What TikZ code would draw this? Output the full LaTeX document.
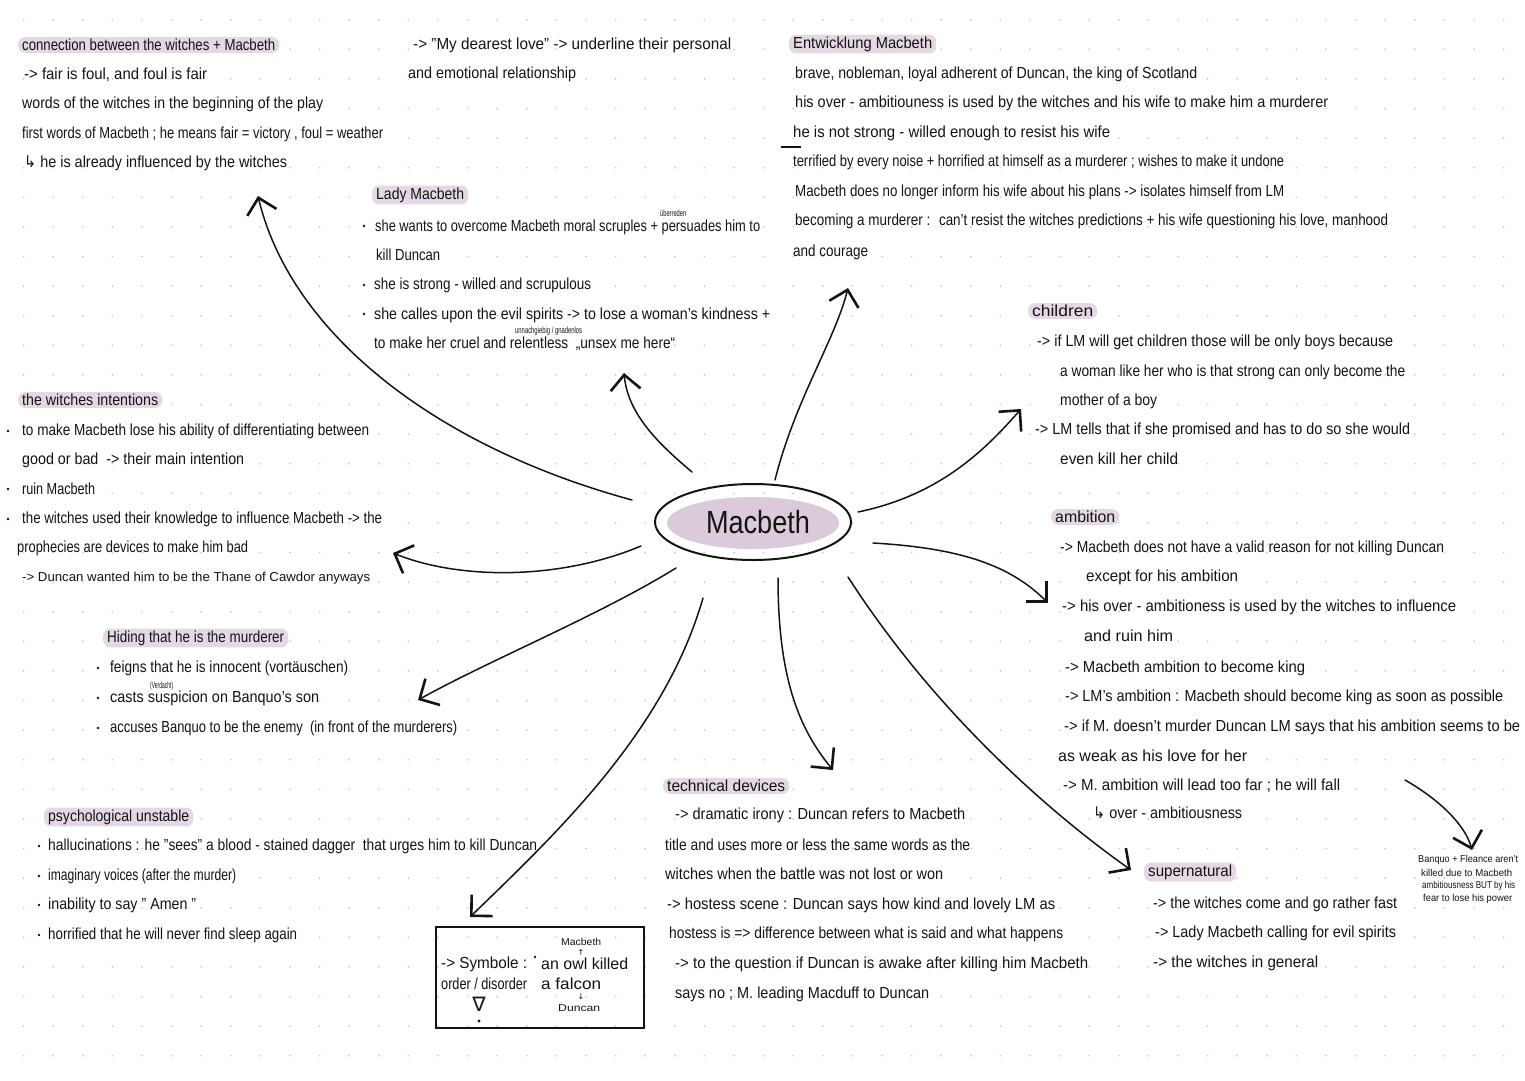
\documentclass[tikz,border=0pt]{standalone}
\usepackage{fontspec}
\setmainfont{Liberation Sans}
\newfontfamily\symfont{DejaVu Sans}
\usetikzlibrary{arrows.meta,shapes.geometric}
\definecolor{hl}{RGB}{227,216,227}
\definecolor{blob}{RGB}{218,202,218}
\definecolor{dotc}{RGB}{205,205,205}
\definecolor{ink}{RGB}{20,20,20}
\newcommand{\hwline}[5]{\node[txt] (#1) at (#2,#3) {\resizebox{\dimexpr #4pt-#2pt\relax}{\height}{#5}};}
\newcommand{\hwhead}[5]{\node[head] (#1) at (#2,#3) {\resizebox{\dimexpr #4pt-#2pt\relax}{\height}{#5}};}
\newcommand{\smallfont}{\fontsize{9}{10}\selectfont}
\tikzset{
  txt/.style={anchor=west, inner sep=0pt, text=ink, font=\fontsize{16}{18}\selectfont},
  head/.style={txt, fill=hl, rounded corners=7pt, inner xsep=4pt, inner ysep=2pt, xshift=-4pt},
  conn/.style={draw=ink, line width=1.5pt, line cap=round,
    -{Straight Barb[length=15pt,width=30pt,line width=2.6pt]}},
  bul/.style={fill=ink},
}
\begin{document}
\begin{tikzpicture}[x=1pt,y=-1pt]
\useasboundingbox (0,0) rectangle (1525,1080);
\fill[white] (0,0) rectangle (1525,1080);
% dot grid
\foreach \i in {0,...,50}{\foreach \j in {0,...,35}{\fill[dotc] (23.6+29.6*\i,19.7+29.6*\j) circle (1.0);}}

% centre
\fill[blob] (753,523) ellipse (86 and 26);
\node[ellipse, draw=ink, line width=2pt, minimum width=196pt, minimum height=76pt, inner sep=0pt] (mac) at (753,522) {};
\node[inner sep=0pt, text=ink, font=\fontsize{32}{34}\selectfont] (mactxt) at (758,522) {\resizebox{104pt}{\height}{Macbeth}};

% A: connection
\hwhead{a0}{22}{45}{275}{connection between the witches + Macbeth}
\hwline{a1}{24}{75}{207}{-> fair is foul, and foul is fair}
\hwline{a2}{22}{104}{323}{words of the witches in the beginning of the play}
\hwline{a3}{22}{134}{383}{first words of Macbeth ; he means fair = victory , foul = weather}
\hwline{a4}{24}{163}{287}{{\symfont ↳} he is already influenced by the witches}

% B
\hwline{b1}{413}{45}{731}{-> "My dearest love" -> underline their personal}
\hwline{b2}{408}{74}{576}{and emotional relationship}

% C: Lady Macbeth
\hwhead{c0}{376}{195}{464}{Lady Macbeth}
\hwline{c1}{375}{227}{760}{she wants to overcome Macbeth moral scruples + persuades him to}
\hwline{cn1}{660}{213}{686}{\smallfont überreden}
\hwline{c2}{376}{255}{440}{kill Duncan}
\hwline{c3}{374}{285}{591}{she is strong - willed and scrupulous}
\hwline{c4}{374}{315}{770}{she calles upon the evil spirits -> to lose a woman's kindness +}
\hwline{cn2}{515}{331}{582}{\smallfont unnachgiebig / gnadenlos}
\hwline{c5}{374}{344}{675}{to make her cruel and relentless \ „unsex me here“}
\fill[bul] (364,226) circle (1.4);
\fill[bul] (364,285) circle (1.4);
\fill[bul] (364,314) circle (1.4);

% D: Entwicklung
\hwhead{d0}{793}{44}{932}{Entwicklung Macbeth}
\hwline{d1}{795}{74}{1197}{brave, nobleman, loyal adherent of Duncan, the king of Scotland}
\hwline{d2}{795}{103}{1328}{his over - ambitiouness is used by the witches and his wife to make him a murderer}
\hwline{d3}{793}{133}{1110}{he is not strong - willed enough to resist his wife}
\hwline{d4}{793}{162}{1284}{terrified by every noise + horrified at himself as a murderer ; wishes to make it undone}
\hwline{d5}{795}{192}{1284}{Macbeth does no longer inform his wife about his plans -> isolates himself from LM}
\hwline{d6}{795}{221}{1388}{becoming a murderer : \ can't resist the witches predictions + his wife questioning his love, manhood}
\hwline{d7}{793}{252}{868}{and courage}
\draw[ink, line width=1.2pt] (781,147) -- (801,147);

% E: children
\hwhead{e0}{1032}{311}{1093}{children}
\hwline{e1}{1037}{342}{1393}{-> if LM will get children those will be only boys because}
\hwline{e2}{1060}{372}{1405}{a woman like her who is that strong can only become the}
\hwline{e3}{1060}{401}{1157}{mother of a boy}
\hwline{e4}{1035}{430}{1410}{-> LM tells that if she promised and has to do so she would}
\hwline{e5}{1060}{459}{1178}{even kill her child}

% F: witches intentions
\hwhead{f0}{22}{400}{158}{the witches intentions}
\hwline{f1}{22}{431}{369}{to make Macbeth lose his ability of differentiating between}
\hwline{f2}{22}{460}{244}{good or bad \ -> their main intention}
\hwline{f3}{22}{489}{95}{ruin Macbeth}
\hwline{f4}{22}{519}{382}{the witches used their knowledge to influence Macbeth -> the}
\hwline{f5}{17}{548}{248}{prophecies are devices to make him bad}
\hwline{f6}{22}{578}{370}{\fontsize{13}{15}\selectfont -> Duncan wanted him to be the Thane of Cawdor anyways}
\fill[bul] (8,431) circle (1.4);
\fill[bul] (8,489) circle (1.4);
\fill[bul] (8,519) circle (1.4);

% G: ambition
\hwhead{g0}{1055}{517}{1115}{ambition}
\hwline{g1}{1060}{548}{1444}{-> Macbeth does not have a valid reason for not killing Duncan}
\hwline{g2}{1086}{577}{1238}{except for his ambition}
\hwline{g3}{1062}{607}{1456}{-> his over - ambitioness is used by the witches to influence}
\hwline{g4}{1084}{636}{1173}{and ruin him}
\hwline{g5}{1065}{668}{1305}{-> Macbeth ambition to become king}
\hwline{g6}{1065}{697}{1503}{-> LM's ambition : Macbeth should become king as soon as possible}
\hwline{g7}{1064}{727}{1520}{-> if M. doesn't murder Duncan LM says that his ambition seems to be}
\hwline{g8}{1058}{756}{1247}{as weak as his love for her}
\hwline{g9}{1063}{786}{1340}{-> M. ambition will lead too far ; he will fall}
\hwline{g10}{1093}{813}{1242}{{\symfont ↳} over - ambitiousness}

% H: hiding
\hwhead{h0}{107}{638}{284}{Hiding that he is the murderer}
\hwline{h1}{110}{668}{348}{feigns that he is innocent (vortäuschen)}
\hwline{hn}{150}{686}{173}{\smallfont (Verdacht)}
\hwline{h2}{110}{698}{319}{casts suspicion on Banquo's son}
\hwline{h3}{110}{728}{457}{accuses Banquo to be the enemy \ (in front of the murderers)}
\fill[bul] (98,668) circle (1.4);
\fill[bul] (98,698) circle (1.4);
\fill[bul] (98,728) circle (1.4);

% I: psychological
\hwhead{i0}{48}{817}{189}{psychological unstable}
\hwline{i1}{48}{846}{537}{hallucinations : he "sees" a blood - stained dagger \ that urges him to kill Duncan}
\hwline{i2}{48}{876}{236}{imaginary voices (after the murder)}
\hwline{i3}{48}{905}{196}{inability to say " Amen "}
\hwline{i4}{48}{935}{297}{horrified that he will never find sleep again}
\fill[bul] (39,846) circle (1.4);
\fill[bul] (39,876) circle (1.4);
\fill[bul] (39,905) circle (1.4);
\fill[bul] (39,935) circle (1.4);

% symbol box
\node[draw=ink, line width=1.6pt, minimum width=208pt, minimum height=101pt, inner sep=0pt] (symbox) at (540,977.5) {};
\hwline{s1}{441}{964}{527}{-> Symbole :}
\hwline{s2}{441}{984}{527}{order / disorder}
\node[inner sep=0pt, text=ink, font=\symfont\fontsize{20}{22}\selectfont] (s3) at (479,1004) {∇};
\fill[ink] (479,1021) circle (1.6);
\fill[ink] (535,957) circle (1.3);
\hwline{s4}{541}{964}{628}{an owl killed}
\hwline{s5}{541}{984}{601}{a falcon}
\hwline{s6}{561}{942}{601}{\fontsize{10}{11}\selectfont Macbeth}
\node[inner sep=0pt, text=ink, font=\symfont\fontsize{8}{9}\selectfont] (s7) at (581,953) {↑};
\node[inner sep=0pt, text=ink, font=\symfont\fontsize{8}{9}\selectfont] (s8) at (581,997) {↓};
\hwline{s9}{558}{1008}{600}{\fontsize{10}{11}\selectfont Duncan}

% J: technical devices
\hwhead{j0}{667}{786}{785}{technical devices}
\hwline{j1}{675}{815}{965}{-> dramatic irony : Duncan refers to Macbeth}
\hwline{j2}{665}{845}{970}{title and uses more or less the same words as the}
\hwline{j3}{665}{874}{943}{witches when the battle was not lost or won}
\hwline{j4}{667}{905}{1055}{-> hostess scene : Duncan says how kind and lovely LM as}
\hwline{j5}{669}{934}{1063}{hostess is => difference between what is said and what happens}
\hwline{j6}{675}{964}{1088}{-> to the question if Duncan is awake after killing him Macbeth}
\hwline{j7}{675}{994}{929}{says no ; M. leading Macduff to Duncan}

% K: supernatural
\hwhead{k0}{1148}{872}{1232}{supernatural}
\hwline{k1}{1153}{904}{1397}{-> the witches come and go rather fast}
\hwline{k2}{1155}{933}{1396}{-> Lady Macbeth calling for evil spirits}
\hwline{k3}{1153}{963}{1318}{-> the witches in general}

% note
\hwline{n1}{1418}{860}{1518}{\fontsize{10}{11}\selectfont Banquo + Fleance aren't}
\hwline{n2}{1421}{873}{1512}{\fontsize{10}{11}\selectfont killed due to Macbeth}
\hwline{n3}{1422}{886}{1515}{\fontsize{10}{11}\selectfont ambitiousness BUT by his}
\hwline{n4}{1423}{899}{1512}{\fontsize{10}{11}\selectfont fear to lose his power}

% connectors
\coordinate (p1) at (632,500);  \coordinate (q1) at (258,196);
\coordinate (p2) at (692,472);  \coordinate (q2) at (624,373);
\coordinate (p3) at (775,480);  \coordinate (q3) at (848,288);
\coordinate (p4) at (858,512);  \coordinate (q4) at (1021,409);
\coordinate (p5) at (873,543);  \coordinate (q5) at (1048,603);
\coordinate (p6) at (848,577);  \coordinate (q6) at (1131,870);
\coordinate (p7) at (778,578);  \coordinate (q7) at (833,770);
\coordinate (p8) at (703,598);  \coordinate (q8) at (470,917);
\coordinate (p9) at (676,568);  \coordinate (q9) at (418,700);
\coordinate (p10) at (641,546); \coordinate (q10) at (393,553);
\coordinate (p11) at (1405,780); \coordinate (q11) at (1472,850);

\draw[conn] (p1) .. controls (430,445) and (290,330) .. (q1);
\draw[conn] (p2) .. controls (660,445) and (628,415) .. (q2);
\draw[conn] (p3) .. controls (795,400) and (835,340) .. (q3);
\draw[conn] (p4) .. controls (940,495) and (985,450) .. (q4);
\draw[conn] (p5) .. controls (960,548) and (1010,565) .. (q5);
\draw[conn] (p6) .. controls (940,720) and (1060,820) .. (q6);
\draw[conn] (p7) .. controls (778,680) and (800,730) .. (q7);
\draw[conn] (p8) .. controls (665,730) and (560,830) .. (q8);
\draw[conn] (p9) .. controls (600,615) and (490,660) .. (q9);
\draw[conn] (p10) .. controls (560,580) and (460,580) .. (q10);
\draw[conn] (p11) .. controls (1440,800) and (1465,825) .. (q11);
\end{tikzpicture}
\end{document}
